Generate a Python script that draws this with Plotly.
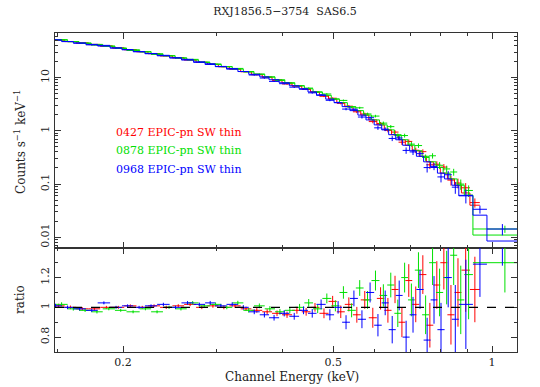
import numpy as np
import plotly.graph_objects as go
from plotly.subplots import make_subplots

# Channel energy bin edges (keV) below ~0.88 keV for each exposure
edges_0427 = [0.147, 0.155, 0.163, 0.172, 0.181, 0.191, 0.201, 0.212, 0.223, 0.235,
              0.248, 0.261, 0.275, 0.289, 0.303, 0.318, 0.334, 0.350, 0.367, 0.383,
              0.400, 0.418, 0.436, 0.453, 0.471, 0.490, 0.508, 0.526, 0.545, 0.564,
              0.584, 0.605, 0.625, 0.645, 0.665, 0.685, 0.706, 0.728, 0.751, 0.774,
              0.798, 0.823, 0.849, 0.875]
edges_0878 = [0.149, 0.157, 0.165, 0.174, 0.183, 0.193, 0.203, 0.215, 0.226, 0.238,
              0.251, 0.264, 0.278, 0.292, 0.307, 0.322, 0.338, 0.354, 0.371, 0.388,
              0.405, 0.423, 0.441, 0.458, 0.477, 0.496, 0.514, 0.532, 0.552, 0.571,
              0.591, 0.612, 0.633, 0.653, 0.673, 0.693, 0.714, 0.737, 0.760, 0.783,
              0.808, 0.833, 0.859, 0.886]
edges_0968 = [0.145, 0.153, 0.161, 0.170, 0.179, 0.189, 0.199, 0.209, 0.220, 0.232,
              0.245, 0.258, 0.272, 0.286, 0.299, 0.314, 0.330, 0.346, 0.363, 0.378,
              0.395, 0.413, 0.431, 0.448, 0.465, 0.484, 0.502, 0.520, 0.538, 0.557,
              0.577, 0.598, 0.618, 0.637, 0.657, 0.677, 0.698, 0.719, 0.742, 0.765,
              0.788, 0.813, 0.839, 0.865]

# Folded model (counts s^-1 keV^-1), bin by bin
model_counts = [50.5, 47.4, 44.6, 41.9, 39.0, 35.9, 33.2, 30.6, 28.0, 25.6,
                23.4, 21.3, 19.3, 17.6, 16.0, 14.4, 12.96, 11.5, 10.3, 9.09,
                7.98, 7.01, 6.15, 5.37, 4.63, 3.93, 3.38, 2.84, 2.39, 1.97,
                1.60, 1.29, 1.04, 0.844, 0.678, 0.535, 0.422, 0.332, 0.261, 0.2045,
                0.160, 0.1246, 0.0949]

# 1-sigma uncertainty on data/model, bin by bin
ratio_err = [0.014, 0.012, 0.011, 0.011, 0.010, 0.010, 0.010, 0.010, 0.010, 0.011,
             0.011, 0.012, 0.012, 0.013, 0.013, 0.014, 0.015, 0.016, 0.018, 0.019,
             0.021, 0.023, 0.026, 0.029, 0.033, 0.037, 0.042, 0.047, 0.053, 0.060,
             0.067, 0.075, 0.083, 0.092, 0.10, 0.11, 0.12, 0.13, 0.15, 0.16,
             0.18, 0.20, 0.23]

# data/model ratio per exposure
ratio_0427 = [1.01, 1.00, 0.99, 0.99, 1.00, 1.00, 1.01, 1.00, 1.01, 1.00,
              1.01, 1.02, 1.00, 1.01, 1.00, 1.01, 0.99, 0.98, 0.97, 0.96,
              0.95, 0.98, 0.97, 1.00, 0.96, 1.04, 0.97, 1.02, 0.95, 1.05,
              0.93, 1.06, 0.98, 1.12, 0.90, 1.18, 1.02, 1.22, 0.88, 1.15,
              1.30, 0.95, 1.10]
ratio_0878 = [1.02, 0.99, 0.98, 0.97, 0.99, 0.98, 0.97, 0.99, 0.97, 1.00,
              0.99, 1.03, 1.01, 1.02, 1.00, 1.03, 0.98, 1.01, 0.99, 0.97,
              0.98, 1.00, 1.03, 0.99, 1.06, 1.01, 1.10, 0.98, 1.13, 1.05,
              1.18, 1.08, 1.15, 0.96, 1.20, 1.05, 1.25, 0.95, 1.30, 1.10,
              1.20, 1.35, 1.05]
ratio_0968 = [1.01, 1.00, 0.99, 0.98, 1.03, 1.00, 1.01, 1.00, 1.01, 1.02,
              1.00, 1.03, 1.02, 1.03, 1.01, 1.02, 1.00, 0.97, 0.95, 0.93,
              0.96, 0.94, 0.98, 0.96, 1.02, 0.95, 1.00, 0.90, 1.06, 0.92,
              1.10, 0.88, 1.03, 0.85, 1.08, 0.80, 0.95, 1.12, 0.78, 1.05,
              0.85, 1.20, 0.92]

# Wider high-energy bins, different for each exposure
tail_edges_0427 = [0.908, 0.948]
tail_model_0427 = [0.068, 0.040]
tail_ratio_0427 = [1.25, 1.12]
tail_err_0427 = [0.28, 0.22]

tail_edges_0878 = [0.920, 1.216]
tail_model_0878 = [0.062, 0.011]
tail_ratio_0878 = [1.22, 1.30]
tail_err_0878 = [0.30, 0.20]

tail_edges_0968 = [0.920, 0.978, 1.119]
tail_model_0968 = [0.060, 0.026, 0.0085]
tail_ratio_0968 = [1.02, 1.29, 1.68]
tail_err_0968 = [0.30, 0.22, 0.40]

series_labels = ["0427 EPIC-pn SW thin", "0878 EPIC-pn SW thin", "0968 EPIC-pn SW thin"]
series_colors = ["#ff0000", "#00e000", "#0000ff"]

x_ticks = [0.2, 0.5, 1]
x_minor = [0.15, 0.3, 0.4, 0.6, 0.7, 0.8, 0.9]
y_ticks = [0.01, 0.1, 1, 10]
y_minor = [0.007, 0.008, 0.009, 0.02, 0.03, 0.04, 0.05, 0.06, 0.07, 0.08, 0.09,
           0.2, 0.3, 0.4, 0.5, 0.6, 0.7, 0.8, 0.9, 2, 3, 4, 5, 6, 7, 8, 9, 20, 30, 40, 50, 60]
r_ticks = [0.8, 1, 1.2]
r_minor = [0.9, 1.1, 1.3]

series = [
    (edges_0427, ratio_0427, tail_edges_0427, tail_model_0427, tail_ratio_0427, tail_err_0427),
    (edges_0878, ratio_0878, tail_edges_0878, tail_model_0878, tail_ratio_0878, tail_err_0878),
    (edges_0968, ratio_0968, tail_edges_0968, tail_model_0968, tail_ratio_0968, tail_err_0968),
]

# page geometry (pixels)
W, H = 540, 387
ML, MR, MT, MB = 55, 23, 33, 35
PW, PH = W - ML - MR, H - MT - MB
split = 104.2 / PH  # fraction of plot height given to the ratio panel


def px(xp):
    return (xp - ML) / PW


def py(yp):
    return (H - MB - yp) / PH


fig = make_subplots(rows=2, cols=1, shared_xaxes=True, vertical_spacing=0)

for (e_lo, ratio, t_edges, t_model, t_ratio, t_err), col in zip(series, series_colors):
    edges = np.array(e_lo + t_edges)
    model = np.array(model_counts + t_model)
    r = np.array(ratio + t_ratio)
    re = np.array(ratio_err + t_err)
    centre = np.sqrt(edges[:-1] * edges[1:])
    xplus = edges[1:] - centre
    xminus = centre - edges[:-1]
    counts = model * r
    cerr = model * re

    # model as a histogram step
    fig.add_trace(go.Scatter(
        x=edges, y=np.append(model, model[-1]), mode="lines", line_shape="hv",
        line=dict(color=col, width=1.0), hoverinfo="skip", showlegend=False), row=1, col=1)
    ebx = dict(type="data", symmetric=False, array=xplus, arrayminus=xminus,
               color=col, thickness=1, width=0)
    # data crosses
    fig.add_trace(go.Scatter(
        x=centre, y=counts, mode="markers", marker=dict(size=1, color=col),
        error_x=ebx, error_y=dict(type="data", array=cerr, color=col, thickness=1, width=0),
        showlegend=False), row=1, col=1)
    # residual ratio crosses
    fig.add_trace(go.Scatter(
        x=centre, y=r, mode="markers", marker=dict(size=1, color=col),
        error_x=ebx, error_y=dict(type="data", array=re, color=col, thickness=1, width=0),
        showlegend=False), row=2, col=1)

fig.add_shape(type="line", xref="x2 domain", yref="y2", x0=0, x1=1, y0=1, y1=1,
              line=dict(color="black", width=1.2, dash="dash"))

font_main = "DejaVu Serif"
axis_common = dict(showline=True, linecolor="#333333", linewidth=1.3, mirror="allticks",
                   ticks="inside", ticklen=6, tickwidth=1, tickcolor="#333333",
                   showgrid=False, zeroline=False,
                   tickfont=dict(family=font_main, size=11, color="#222222"))

fig.update_xaxes(type="log", range=[np.log10(0.1486), np.log10(1.115)],
                 tickmode="array", tickvals=x_ticks, ticktext=["0.2", "0.5", "1"],
                 minor=dict(tickmode="array", tickvals=x_minor, ticks="inside", ticklen=3,
                            tickcolor="#333333"),
                 **axis_common)
fig.update_xaxes(showticklabels=False, row=1, col=1)
fig.update_yaxes(type="log", range=[np.log10(0.00634), np.log10(68.6)], domain=[split, 1],
                 tickmode="array", tickvals=y_ticks, ticktext=["0.01", "0.1", "1", "10"],
                 tickangle=-90,
                 minor=dict(tickmode="array", tickvals=y_minor, ticks="inside", ticklen=3,
                            tickcolor="#333333"),
                 row=1, col=1, **axis_common)
fig.update_yaxes(range=[0.7, 1.4], domain=[0, split],
                 tickmode="array", tickvals=r_ticks, ticktext=["0.8", "1", "1.2"],
                 tickangle=-90,
                 minor=dict(tickmode="array", tickvals=r_minor, ticks="inside", ticklen=3,
                            tickcolor="#333333"),
                 row=2, col=1, **axis_common)

annotations = [
    dict(text="Counts s<sup>−1</sup> keV<sup>−1</sup>", x=px(20), y=py(142), textangle=-90),
    dict(text="ratio", x=px(20), y=py(300), textangle=-90),
    dict(text="Channel Energy (keV)", x=px(292), y=py(377)),
]
for a in annotations:
    fig.add_annotation(xref="paper", yref="paper", showarrow=False,
                       xanchor="center", yanchor="middle",
                       font=dict(family=font_main, size=12, color="#222222"), **a)

for label, col, ypix in zip(series_labels, series_colors, [132.7, 150.7, 169.0]):
    fig.add_annotation(xref="paper", yref="paper", showarrow=False,
                       x=px(114), y=py(ypix), xanchor="left", yanchor="middle",
                       text=label, font=dict(family=font_main, size=11, color=col))

fig.update_layout(
    width=W, height=H, margin=dict(l=ML, r=MR, t=MT, b=MB),
    paper_bgcolor="white", plot_bgcolor="white",
    title=dict(text="RXJ1856.5−3754  SAS6.5", x=px(285), xref="paper", xanchor="center",
               y=1 - 11 / H, yanchor="middle",
               font=dict(family=font_main, size=11, color="#222222")),
    showlegend=False,
)

fig.write_html("out.html")
